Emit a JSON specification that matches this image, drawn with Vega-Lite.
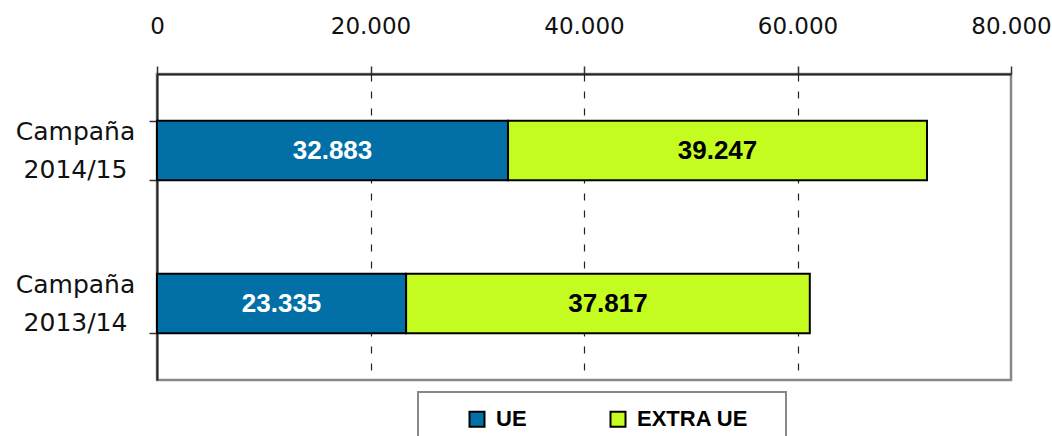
{
  "$schema": "https://vega.github.io/schema/vega-lite/v6.json",
  "width": 854,
  "height": 306,
  "autosize": {"type": "none"},
  "padding": {"left": 157, "top": 74, "right": 41, "bottom": 56},
  "background": "white",
  "config": {
    "locale": {"number": {"decimal": ",", "thousands": ".", "grouping": [3], "currency": ["", " €"]}},
    "view": {"stroke": "#888888", "strokeWidth": 2.5},
    "legend": {"strokeWidth": 2}
  },
  "data": {
    "values": [
      {"campana": "Campaña 2014/15", "serie": "UE", "orden": 1, "valor": 32883},
      {"campana": "Campaña 2014/15", "serie": "EXTRA UE", "orden": 2, "valor": 39247},
      {"campana": "Campaña 2013/14", "serie": "UE", "orden": 1, "valor": 23335},
      {"campana": "Campaña 2013/14", "serie": "EXTRA UE", "orden": 2, "valor": 37817}
    ]
  },
  "encoding": {
    "y": {
      "field": "campana",
      "type": "nominal",
      "sort": ["Campaña 2014/15", "Campaña 2013/14"],
      "scale": {"paddingInner": 0.61, "paddingOuter": 0.305},
      "axis": {
        "title": null,
        "orient": "left",
        "labelExpr": "split(datum.label, ' ')",
        "labelFont": "DejaVu Sans",
        "labelFontSize": 25,
        "labelColor": "#111111",
        "labelAlign": "center",
        "labelBaseline": "middle",
        "labelLineHeight": 38,
        "labelPadding": 74,
        "labelOffset": -19,
        "tickBand": "extent",
        "tickSize": 8,
        "tickColor": "#333333",
        "tickWidth": 1.5,
        "domainColor": "#222222",
        "domainWidth": 2,
        "grid": false
      }
    },
    "x": {
      "field": "valor",
      "type": "quantitative",
      "stack": "zero",
      "scale": {"domain": [0, 80000], "nice": false},
      "axis": {
        "title": null,
        "orient": "top",
        "values": [0, 20000, 40000, 60000, 80000],
        "format": ",.0f",
        "labelFont": "DejaVu Sans",
        "labelFontSize": 23,
        "labelColor": "#111111",
        "labelPadding": 28,
        "labelFlush": false,
        "tickSize": 8,
        "tickColor": "#333333",
        "tickWidth": 1.5,
        "domainColor": "#222222",
        "domainWidth": 2,
        "grid": true,
        "gridColor": "#222222",
        "gridWidth": 1.2,
        "gridDash": [7, 10],
        "gridOpacity": {"condition": {"test": "datum.value === 0 || datum.value === 80000", "value": 0}, "value": 1}
      }
    },
    "order": {"field": "orden", "type": "quantitative"}
  },
  "layer": [
    {
      "mark": {"type": "bar", "stroke": "#000000", "strokeWidth": 2},
      "encoding": {
        "color": {
          "field": "serie",
          "type": "nominal",
          "scale": {"domain": ["UE", "EXTRA UE"], "range": ["#0270A7", "#C5FC20"]},
          "legend": {
            "orient": "none",
            "legendX": 261,
            "legendY": 318,
            "direction": "horizontal",
            "columns": 2,
            "title": "\u00a0",
            "titleOrient": "right",
            "titleFontSize": 10,
            "titlePadding": 22,
            "padding": 16,
            "fillColor": "white",
            "strokeColor": "#888888",
            "symbolType": "square",
            "symbolSize": 225,
            "symbolOffset": 32,
            "symbolStrokeColor": "#000000",
            "symbolStrokeWidth": 2,
            "symbolOpacity": 1,
            "labelFont": "Liberation Sans",
            "labelFontWeight": "bold",
            "labelFontSize": 22,
            "labelColor": "#000000",
            "labelOffset": 8,
            "columnPadding": 48
          }
        }
      }
    },
    {
      "mark": {"type": "text", "font": "Liberation Sans", "fontWeight": "bold", "fontSize": 26, "baseline": "middle", "align": "center"},
      "encoding": {
        "x": {"field": "valor", "type": "quantitative", "stack": "zero", "bandPosition": 0.5},
        "text": {"field": "valor", "type": "quantitative", "format": ",.0f"},
        "color": {"condition": {"test": "datum.serie === 'UE'", "value": "white"}, "value": "black"}
      }
    }
  ]
}
